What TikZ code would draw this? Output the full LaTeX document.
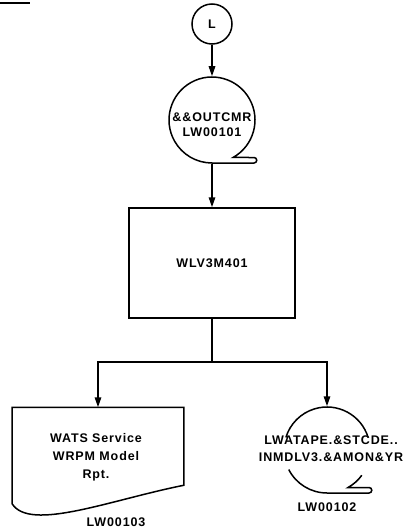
\documentclass[tikz,border=0pt]{standalone}
\usepackage{fontspec}
\setmainfont[LetterSpace=7]{Liberation Sans}
\usetikzlibrary{arrows.meta,calc}
\begin{document}
\begin{tikzpicture}[x=1pt,y=-1pt,line width=1.5pt,
  lbl/.style={font=\bfseries\fontsize{12.5}{15}\selectfont,align=center,inner sep=0pt},
  arr/.style={-{Triangle[length=10pt,width=6.5pt]}},
  tapering/.style={circle,minimum size=86pt,inner sep=0pt}]
\useasboundingbox (0,0) rectangle (406,532);
% stray mark at top left
\draw[line width=1.8pt] (0,3) -- (30,3);
% connector L
\node[circle,draw,minimum size=40pt,inner sep=0pt,lbl] (L) at (212,24) {L};
% tape 1
\node[tapering] (t1) at (212,120) {};
\draw ($(t1.center)+(60.7:43)$) arc[start angle=60.7,end angle=-270,radius=43]
  -- ++(42,0) arc[start angle=90,end angle=-90,radius=2.75] -- cycle;
\node[lbl] (t1txt) at (212,125) {\&\&OUTCMR\\LW00101};
% process box
\node[draw,minimum width=166pt,minimum height=110pt,lbl] (box) at (212,263) {WLV3M401};
% document
\node[minimum width=170.3pt,minimum height=95pt,inner sep=0pt] (doc) at (98,455.5) {};
\draw (doc.north west) -- (doc.north east) -- ++(0,78)
  .. controls (110,500) and (30,532) .. (doc.south west) -- cycle;
\node[lbl,font=\bfseries\fontsize{12.5}{18}\selectfont] (doctxt) at (96,457) {WATS Service\\WRPM Model\\Rpt.};
\node[lbl] (l103) at (116,522) {LW00103};
% tape 2
\node[tapering] (t2) at (327,450) {};
\draw ($(t2.center)+(-17:43)$) arc[start angle=-17,end angle=-163,radius=43];
\draw ($(t2.center)+(36:43)$) arc[start angle=36,end angle=60.7,radius=43]
  -- ++(21,0) arc[start angle=-90,end angle=90,radius=2.75]
  -- ++(-42,0) arc[start angle=90,end angle=153,radius=43];
\node[lbl,font=\bfseries\fontsize{12.5}{17}\selectfont] (t2txt) at (331,449) {LWATAPE.\&STCDE..\\INMDLV3.\&AMON\&YR};
\node[lbl] (l102) at (327,507) {LW00102};
% connectors
\draw[arr] (L) -- (t1);
\draw[arr] (t1.south) -- (box.north);
\coordinate (j) at (212,362);
\draw (box.south) -- (j);
\draw[arr] (j) -| (doc.north);
\draw[arr] (j) -| (t2.north);
\end{tikzpicture}
\end{document}
